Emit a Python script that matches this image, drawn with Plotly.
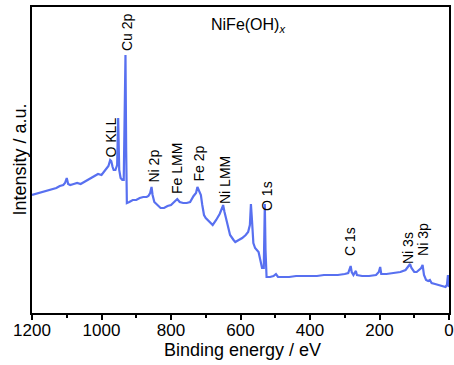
import plotly.graph_objects as go

# Binding energy (eV) and intensity (a.u.)
energy = [1200, 1190, 1180, 1170, 1160, 1150, 1140, 1130, 1120, 1110, 1105, 1100, 1096, 1090,
          1080, 1070, 1060, 1050, 1040, 1030, 1020, 1010, 1000, 990, 985, 980, 975, 972, 968,
          965, 960, 955, 952, 949, 945, 940, 936, 933, 931, 929, 927, 920, 910, 900, 890, 880,
          870, 865, 860, 856, 853, 848, 840, 830, 820, 810, 800, 790, 782, 775, 765, 755, 745,
          735, 728, 724, 720, 714, 710, 705, 700, 690, 680, 670, 660, 653, 650, 646, 640, 635,
          630, 620, 615, 605, 595, 585, 578, 573, 570, 567, 563, 558, 553, 548, 543, 538, 533,
          530, 528, 525, 515, 505, 498, 492, 480, 460, 440, 420, 400, 380, 360, 340, 320, 300,
          290, 285, 283, 280, 275, 270, 268, 265, 250, 230, 210, 202, 198, 195, 180, 160, 140,
          125, 115, 112, 108, 100, 93, 85, 80, 76, 72, 66, 60, 55, 50, 40, 30, 20, 10, 6, 3, 1, 0]
ypix = [195, 194, 193, 192, 191, 190, 189, 188, 186, 185, 183, 178, 184, 185,
        184, 183, 184, 182, 180, 178, 176, 174, 175, 170, 168, 166, 160, 161, 167,
        170, 170, 165, 118, 170, 178, 180, 180, 120, 55, 150, 203, 202, 200, 200, 198, 197,
        197, 196, 193, 187, 195, 202, 205, 208, 208, 206, 205, 202, 199, 202, 203, 203, 202,
        196, 193, 187, 190, 195, 205, 215, 218, 222, 225, 220, 214, 208, 205, 212, 220, 228,
        235, 240, 242, 240, 238, 235, 232, 225, 204, 220, 243, 248, 250, 252, 260, 268, 268,
        204, 250, 277, 277, 276, 274, 277, 277, 277, 276, 276, 276, 276, 275, 275, 275, 274,
        273, 268, 266, 272, 275, 272, 271, 275, 276, 276, 275, 272, 267, 274, 274, 273, 272,
        270, 265, 264, 268, 272, 272, 270, 268, 265, 275, 280, 281, 280, 283, 284, 285, 286, 287, 285, 275, 286, 287]
intensity = [313 - v for v in ypix]

# Peak labels
label_text = ["O KLL", "Cu 2p", "Ni 2p", "Fe LMM", "Fe 2p", "Ni LMM", "O 1s", "C 1s", "Ni 3s", "Ni 3p"]
label_x = [975.5, 926.6, 851.8, 782.7, 722.3, 644.6, 524, 285, 118, 75]
label_y = [175.5, 281, 146.5, 144, 149.5, 133, 117, 72, 65, 74]

x_ticks = [1200, 1000, 800, 600, 400, 200, 0]
sample_name = "NiFe(OH)<sub><i>x</i></sub>"

FONT = "Arial, Liberation Sans, sans-serif"

fig = go.Figure()
fig.add_trace(go.Scatter(x=energy, y=intensity, mode="lines",
                         line=dict(color="#5870f0", width=2.2), showlegend=False))

for t, lx, ly in zip(label_text, label_x, label_y):
    fig.add_annotation(x=lx, y=ly, xref="x", yref="y", text=t, textangle=-90,
                       showarrow=False, font=dict(family=FONT, size=14, color="black"))

fig.add_annotation(x=578, y=288, xref="x", yref="y", text=sample_name, showarrow=False,
                   font=dict(family=FONT, size=16, color="black"))

# axis titles
fig.add_annotation(x=0.504, y=-0.121, xref="paper", yref="paper", text="Binding energy / eV",
                   showarrow=False, font=dict(family=FONT, size=18, color="black"),
                   xanchor="center", yanchor="middle")
fig.add_annotation(x=-0.029, y=0.501, xref="paper", yref="paper", text="Intensity / a.u.",
                   textangle=-90, showarrow=False,
                   font=dict(family=FONT, size=18, color="black"),
                   xanchor="center", yanchor="middle")

fig.update_layout(
    width=454, height=365,
    margin=dict(l=32, r=5, t=7, b=52, autoexpand=False),
    paper_bgcolor="white", plot_bgcolor="white",
    xaxis=dict(range=[1200, 0], tickvals=x_ticks, ticktext=[str(v) for v in x_ticks],
               ticks="outside", ticklen=5, tickwidth=1.5, tickcolor="black",
               ticklabelstandoff=-4,
               minor=dict(tickvals=[1100, 900, 700, 500, 300, 100], ticks="outside",
                          ticklen=3, tickwidth=1.5, tickcolor="black"),
               showline=True, linecolor="black", linewidth=1.5, mirror=True,
               showgrid=False, zeroline=False, automargin=False,
               tickfont=dict(family=FONT, size=17, color="black")),
    yaxis=dict(range=[0, 306], showticklabels=False, ticks="",
               showline=True, linecolor="black", linewidth=1.5, mirror=True,
               showgrid=False, zeroline=False, automargin=False),
)

fig.write_html("out.html", config={"displayModeBar": False},
               post_script="document.body.style.margin='0';document.body.style.overflow='hidden';")
